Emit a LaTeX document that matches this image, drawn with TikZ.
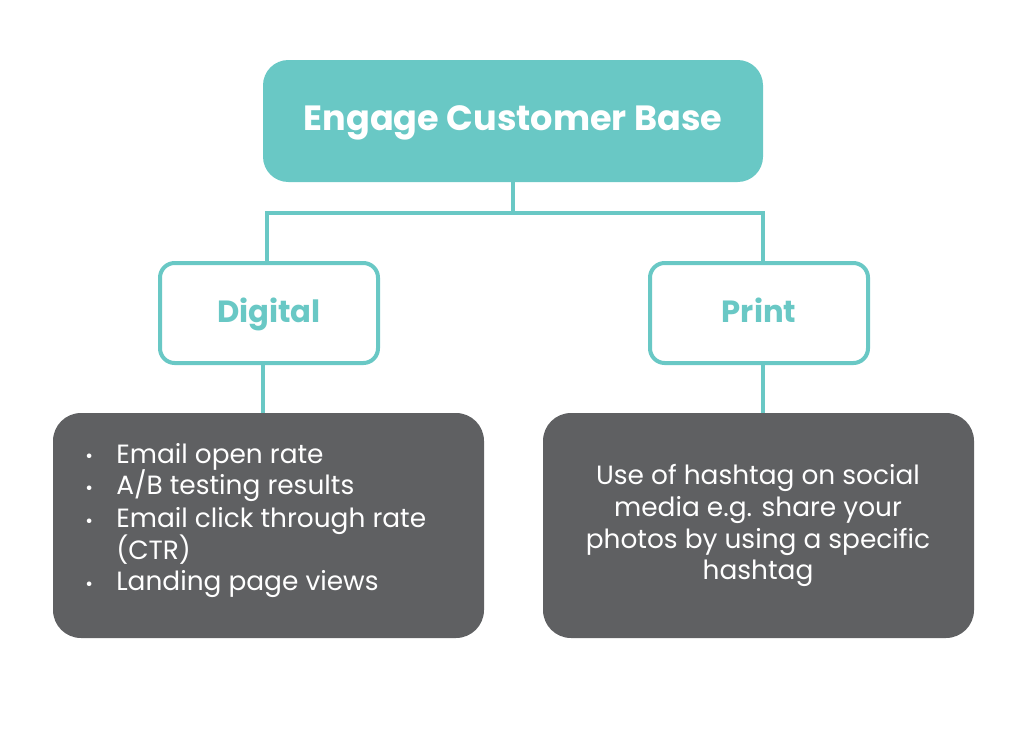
\documentclass[tikz,border=0pt]{standalone}
\usepackage{fontspec}
\setmainfont{Poppins}
\definecolor{teal}{HTML}{69C8C5}
\definecolor{dgray}{HTML}{5F6062}
\begin{document}
\begin{tikzpicture}[x=0.75pt,y=-0.75pt,
  conn/.style={draw=teal,line width=3pt},
  topbox/.style={fill=teal,rounded corners=19pt},
  midbox/.style={draw=teal,fill=white,line width=3pt,rounded corners=11pt},
  lowbox/.style={fill=dgray,rounded corners=21pt},
  midtext/.style={font=\bfseries\fontsize{23}{28}\selectfont,text=teal,anchor=base},
  bodytext/.style={text=white,font=\fontsize{19.8}{24}\selectfont,inner sep=0pt}]
\useasboundingbox (0,0) rectangle (1024,736);
% boxes
\path[topbox] (263,60) rectangle (763,182);
\node[font=\bfseries\fontsize{26.3}{32}\selectfont,text=white,anchor=base] (top) at (513,130) {Engage Customer Base};
\coordinate (topb) at (513,182);
\path[midbox] (160,263) rectangle (378,363);
\path[midbox] (650,263) rectangle (868,363);
\node[midtext] (dig) at (269,322) {Digital};
\node[midtext] (pri) at (759,322) {Print};
\coordinate (digt) at (267,263);
\coordinate (prit) at (763,263);
\coordinate (digb) at (263,363);
\coordinate (prib) at (763,363);
\path[lowbox] (53,413) rectangle (484,638);
\path[lowbox] (543,413) rectangle (974,638);
\coordinate (lt) at (263,413);
\coordinate (rt) at (763,413);
% connectors
\coordinate (j) at (513,213);
\draw[conn] (topb) -- (j);
\draw[conn] (digt) |- (j) -| (prit);
\draw[conn] (digb) -- (lt);
\draw[conn] (prib) -- (rt);
% texts
\begin{scope}[every node/.style={bodytext,anchor=base west}]
\node[font=\fontsize{14}{14}\selectfont] (b1) at (85,462) {\textbullet};
\node (l1) at (116,463) {Email open rate};
\node[font=\fontsize{14}{14}\selectfont] (b2) at (85,494) {\textbullet};
\node (l2) at (116,494) {A/B testing results};
\node[font=\fontsize{14}{14}\selectfont] (b3) at (85,527) {\textbullet};
\node (l3) at (116,527) {Email click through rate};
\node (l3b) at (116,559) {(CTR)};
\node[font=\fontsize{14}{14}\selectfont] (b4) at (85,590) {\textbullet};
\node (l4) at (116,590) {Landing page views};
\end{scope}
\begin{scope}[every node/.style={bodytext,anchor=base}]
\node (r1) at (758,484) {Use of hashtag on social};
\node (r2) at (758,516) {media e.g. share your};
\node (r3) at (758,548) {photos by using a specific};
\node (r4) at (758,579) {hashtag};
\end{scope}
\end{tikzpicture}
\end{document}
